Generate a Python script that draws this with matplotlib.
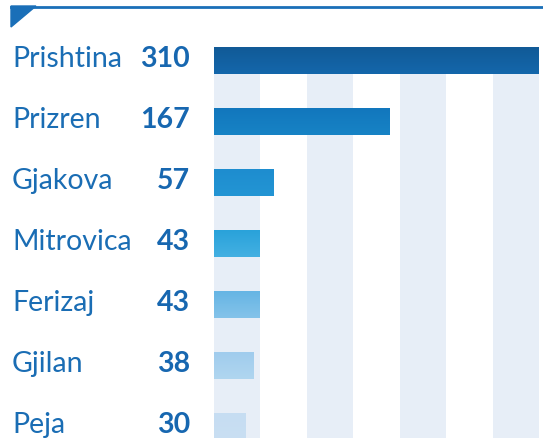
import matplotlib.pyplot as plt
import matplotlib.transforms as mtransforms
from matplotlib.patches import Polygon
from matplotlib.colors import LinearSegmentedColormap
import numpy as np

# data
cities = ['Prishtina', 'Prizren', 'Gjakova', 'Mitrovica', 'Ferizaj', 'Gjilan', 'Peja']
counts = [310, 167, 57, 43, 43, 38, 30]
# (top, bottom) colour of each bar's slight vertical gradient
bar_colors = [('#115a97', '#1467ab'), ('#1277bd', '#1783c5'), ('#1e8dcf', '#2395d4'),
              ('#29a2da', '#44b0e2'), ('#66b5e4', '#84c3ea'), ('#a0cced', '#b0d6f0'),
              ('#c6ddf2', '#c9dff3')]

text_color = '#1a6db4'
stripe_color = '#e7eef7'

W, H = 543, 438
fig = plt.figure(figsize=(W / 100, H / 100), dpi=100)
ax = fig.add_axes([214 / W, 0, 325 / W, 1])
ax.axis('off')

# alternating background columns (7 equal bands across the value range)
band = max(counts) / 7
stripe_top = -0.22
for k in range(0, 7, 2):
    ax.bar(k * band, 6.18 - stripe_top, bottom=stripe_top, width=band,
           align='edge', color=stripe_color, zorder=0)

bar_h = 0.43
ys = np.arange(len(cities))
for y, v, (c1, c2) in zip(ys, counts, bar_colors):
    grad = np.linspace(0, 1, 50).reshape(-1, 1)
    cmap = LinearSegmentedColormap.from_list('g', [c1, c2])
    ax.imshow(grad, cmap=cmap, aspect='auto', zorder=2,
              extent=[0, v, y + bar_h / 2, y - bar_h / 2], interpolation='bilinear')

ax.set_xlim(0, max(counts))
ax.set_ylim(6.18, -1.0)

# labels on the left
trans = mtransforms.blended_transform_factory(fig.transFigure, ax.transData)
for y, name, v in zip(ys, cities, counts):
    fig.text(12 / W, y + 0.10, name, transform=trans, ha='left', va='baseline',
             fontsize=20.5, family='Lato', color=text_color)
    fig.text(190 / W, y + 0.10, str(v), transform=trans, ha='right', va='baseline',
             fontsize=20.5, family='Lato', fontweight='bold', color='#1767b0')

# top decoration: thin rule with a small corner triangle
fig.add_artist(plt.Line2D([11 / W, 1], [1 - 7 / H, 1 - 7 / H], color='#1a6fb8', lw=2,
                          transform=fig.transFigure))
fig.add_artist(Polygon([[11 / W, 1 - 6 / H], [36 / W, 1 - 6 / H], [11 / W, 1 - 27 / H]],
                       closed=True, color='#1a6fb8', transform=fig.transFigure))

plt.savefig('out.png', dpi=100)
